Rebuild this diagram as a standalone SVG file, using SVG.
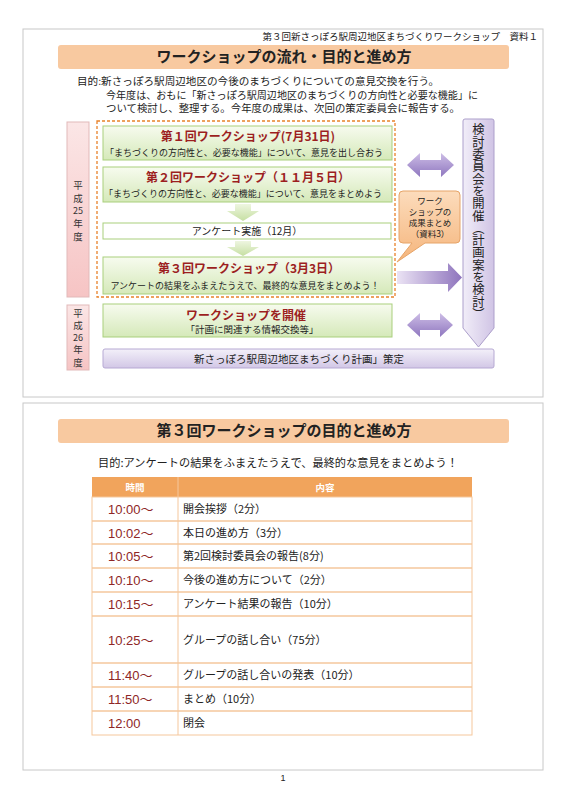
<svg xmlns="http://www.w3.org/2000/svg" width="566" height="800" viewBox="0 0 566 800">
<defs>
<style>
.jp{font-family:"Noto Sans CJK JP","Noto Sans",sans-serif;}
.panel{fill:#fff;stroke:#c8c8c8;stroke-width:1;}
.bar{fill:#f8c9a0;}
.ttl{font-size:15px;font-weight:bold;fill:#222;text-anchor:middle;}
.body{font-size:9.8px;fill:#222;}
.gbox{fill:url(#gGreen);stroke:#a9cf7d;stroke-width:1;}
.wst{font-size:12px;font-weight:bold;fill:#9c1f1f;text-anchor:middle;}
.wss{font-size:9px;fill:#222;text-anchor:middle;}
.year{fill:url(#gPink);stroke:#e2b9b9;stroke-width:1;}
.yt{font-size:9.5px;fill:#333;text-anchor:middle;}
.garrow{fill:url(#gGreenArrow);}
.parrow{fill:url(#gPurpleV);}
.trow{stroke:#f5c79c;stroke-width:1.5;}
.tm{font-family:"Liberation Sans","Noto Sans CJK JP",sans-serif;font-size:13px;fill:#8e2626;}
.tc{font-size:11px;fill:#222;}
</style>
<linearGradient id="gGreen" x1="0" y1="0" x2="0" y2="1">
<stop offset="0" stop-color="#f7fbef"/><stop offset="1" stop-color="#d5e9b9"/>
</linearGradient>
<linearGradient id="gGreenArrow" x1="0" y1="0" x2="0" y2="1">
<stop offset="0" stop-color="#eef6e0"/><stop offset="1" stop-color="#c6dfa2"/>
</linearGradient>
<linearGradient id="gPink" x1="0" y1="0" x2="0" y2="1">
<stop offset="0" stop-color="#fbe6e6"/><stop offset="1" stop-color="#f6c4c4"/>
</linearGradient>
<linearGradient id="gPurpleV" x1="0" y1="0" x2="0" y2="1">
<stop offset="0" stop-color="#cdbde6"/><stop offset="1" stop-color="#8f77bf"/>
</linearGradient>
<linearGradient id="gPurpleH" x1="0" y1="0" x2="1" y2="0">
<stop offset="0" stop-color="#ebe3f4"/><stop offset="1" stop-color="#8e74bd"/>
</linearGradient>
<linearGradient id="gLav" x1="0" y1="0" x2="1" y2="0">
<stop offset="0" stop-color="#f1edf8"/><stop offset="1" stop-color="#d0c4e5"/>
</linearGradient>
<linearGradient id="gLavBar" x1="0" y1="0" x2="0" y2="1">
<stop offset="0" stop-color="#f3f0f9"/><stop offset="1" stop-color="#d2c7e6"/>
</linearGradient>
<linearGradient id="gOrange" x1="0" y1="0" x2="0" y2="1">
<stop offset="0" stop-color="#fcdcbc"/><stop offset="1" stop-color="#f5b57c"/>
</linearGradient>
</defs>

<!-- page panels -->
<rect class="panel" x="23" y="29" width="520" height="368"/>
<rect class="panel" x="23" y="403" width="520" height="367"/>

<g id="header" class="jp">
<text x="538" y="40" font-size="9.5" fill="#222" text-anchor="end">第３回新さっぽろ駅周辺地区まちづくりワークショップ　資料１</text>
</g>

<g id="title1" class="jp">
<rect class="bar" x="58" y="45" width="451" height="24" rx="3"/>
<text class="ttl" x="284" y="62">ワークショップの流れ・目的と進め方</text>
</g>

<g id="purpose1" class="jp body">
<text x="77" y="85" textLength="362" lengthAdjust="spacingAndGlyphs">目的:新さっぽろ駅周辺地区の今後のまちづくりについての意見交換を行う。</text>
<text x="106" y="98.5" textLength="372" lengthAdjust="spacingAndGlyphs">今年度は、おもに「新さっぽろ駅周辺地区のまちづくりの方向性と必要な機能」に</text>
<text x="106" y="112" textLength="354" lengthAdjust="spacingAndGlyphs">ついて検討し、整理する。今年度の成果は、次回の策定委員会に報告する。</text>
</g>

<!-- year labels -->
<g id="year25" class="jp">
<rect class="year" x="67" y="122" width="22" height="175"/>
<text class="yt"><tspan x="78" y="189">平</tspan><tspan x="78" y="202">成</tspan><tspan x="78" y="214" font-size="9">25</tspan><tspan x="78" y="227">年</tspan><tspan x="78" y="240">度</tspan></text>
</g>
<g id="year26" class="jp">
<rect class="year" x="67" y="305" width="22" height="65"/>
<text class="yt"><tspan x="78" y="316.5">平</tspan><tspan x="78" y="329">成</tspan><tspan x="78" y="340.5" font-size="9">26</tspan><tspan x="78" y="353">年</tspan><tspan x="78" y="365.5">度</tspan></text>
</g>

<!-- dashed group -->
<rect x="97" y="121" width="298" height="176" fill="none" stroke="#e8822a" stroke-width="1.3" stroke-dasharray="3,2"/>

<g id="ws1" class="jp">
<rect class="gbox" x="103" y="126" width="289" height="34"/>
<text class="wst" x="248" y="141">第１回ワークショップ(7月31日)</text>
<text class="wss" x="244" y="155.5">「まちづくりの方向性と、必要な機能」について、意見を出し合おう</text>
</g>

<g id="ws2" class="jp">
<rect class="gbox" x="103" y="167" width="289" height="35"/>
<text class="wst" x="248" y="182">第２回ワークショップ（１１月５日）</text>
<text class="wss" x="243" y="196.5">「まちづくりの方向性と、必要な機能」について、意見をまとめよう</text>
</g>

<g id="survey" class="jp">
<rect x="103" y="223" width="288" height="16" fill="#fff" stroke="#a9cf7d" stroke-width="1"/>
<text x="247" y="234.5" font-size="10" fill="#222" text-anchor="middle">アンケート実施（12月）</text>
</g>

<g id="ws3" class="jp">
<rect class="gbox" x="103" y="257" width="289" height="37"/>
<text class="wst" x="249" y="273">第３回ワークショップ（3月3日）</text>
<text class="wss" x="245" y="288.5">アンケートの結果をふまえたうえで、最終的な意見をまとめよう！</text>
</g>

<g id="ws2014" class="jp">
<rect class="gbox" x="103" y="304" width="289" height="33"/>
<text class="wst" x="246" y="319.5">ワークショップを開催</text>
<text x="252" y="333" font-size="9.5" fill="#222" text-anchor="middle">「計画に関連する情報交換等」</text>
</g>

<g id="plan" class="jp">
<rect x="103" y="349" width="391" height="19" rx="2" fill="url(#gLavBar)" stroke="#b6a9d3" stroke-width="1"/>
<text x="299" y="362.5" font-size="10.5" fill="#222" text-anchor="middle">新さっぽろ駅周辺地区まちづくり計画」策定</text>
</g>

<g id="committee" class="jp">
<path d="M463,121 Q463,119 465,119 H492 Q494,119 494,121 V328 L478.5,347 L463,328 Z" fill="url(#gLav)" stroke="#ac9fcb" stroke-width="1"/>
<text x="478.5" y="222" font-size="12.3" fill="#222" text-anchor="middle" style="writing-mode:vertical-rl">検討委員会を開催（計画案を検討）</text>
</g>

<g id="callout" class="jp">
<path d="M403,191 H456 Q460,191 460,195 V239 Q460,243 456,243 H425 L397,262 L412,243 H403 Q399,243 399,239 V195 Q399,191 403,191 Z" fill="url(#gOrange)" stroke="#e6a468" stroke-width="1"/>
<text font-size="8.5" fill="#222" text-anchor="middle"><tspan x="430" y="204">ワーク</tspan><tspan x="430" y="215">ショップの</tspan><tspan x="430" y="226">成果まとめ</tspan><tspan x="430" y="237">（資料3）</tspan></text>
</g>

<g id="connectors">
<path class="garrow" d="M235,204 H251 V211 H259 L243,221 L227,211 H235 Z"/>
<path class="garrow" d="M235,241 H251 V247 H259 L243,256 L227,247 H235 Z"/>
<path class="parrow" d="M407,165 L420,153 V160 H441 V153 L454,165 L441,177 V170 H420 V177 Z"/>
<path class="parrow" d="M407,325 L420,313 V320 H440 V313 L453,325 L440,337 V330 H420 V337 Z"/>
<path d="M397,271 H448 V263 L462,277.5 L448,292 V284 H397 Z" fill="url(#gPurpleH)"/>
</g>

<!-- second panel -->
<g id="title2" class="jp">
<rect class="bar" x="58" y="419" width="451" height="24" rx="3"/>
<text class="ttl" x="284" y="436">第３回ワークショップの目的と進め方</text>
</g>

<g id="purpose2" class="jp">
<text x="98" y="467" font-size="11.2" fill="#222">目的:アンケートの結果をふまえたうえで、最終的な意見をまとめよう！</text>
</g>

<g id="schedule" class="jp">
<rect x="92" y="477" width="380" height="20" fill="#f1a45c"/>
<text x="135" y="490.5" font-size="9.5" font-weight="bold" fill="#fff" text-anchor="middle">時間</text>
<text x="325" y="490.5" font-size="9.5" font-weight="bold" fill="#fff" text-anchor="middle">内容</text>
<rect x="92" y="497" width="380" height="238" fill="#fff" stroke="#f5c79c" stroke-width="1"/>
<line class="trow" x1="92" y1="521" x2="472" y2="521"/>
<line class="trow" x1="92" y1="544" x2="472" y2="544"/>
<line class="trow" x1="92" y1="568" x2="472" y2="568"/>
<line class="trow" x1="92" y1="592" x2="472" y2="592"/>
<line class="trow" x1="92" y1="616" x2="472" y2="616"/>
<line class="trow" x1="92" y1="663" x2="472" y2="663"/>
<line class="trow" x1="92" y1="687" x2="472" y2="687"/>
<line class="trow" x1="92" y1="711" x2="472" y2="711"/>
<line x1="178" y1="477" x2="178" y2="735" stroke="#f5c79c" stroke-width="1"/>
<text class="tm" x="108" y="514">10:00～</text>
<text class="tm" x="108" y="537.5">10:02～</text>
<text class="tm" x="108" y="561">10:05～</text>
<text class="tm" x="108" y="585">10:10～</text>
<text class="tm" x="108" y="609">10:15～</text>
<text class="tm" x="108" y="645">10:25～</text>
<text class="tm" x="108" y="680">11:40～</text>
<text class="tm" x="108" y="704">11:50～</text>
<text class="tm" x="108" y="728">12:00</text>
<text class="tc" x="183" y="513">開会挨拶（2分）</text>
<text class="tc" x="183" y="536.5">本日の進め方（3分）</text>
<text class="tc" x="183" y="560">第2回検討委員会の報告(8分)</text>
<text class="tc" x="183" y="584">今後の進め方について（2分）</text>
<text class="tc" x="183" y="608">アンケート結果の報告（10分）</text>
<text class="tc" x="183" y="644">グループの話し合い（75分）</text>
<text class="tc" x="183" y="679">グループの話し合いの発表（10分）</text>
<text class="tc" x="183" y="703">まとめ（10分）</text>
<text class="tc" x="183" y="727">閉会</text>
</g>

<g id="pagenum">
<text x="283" y="781" font-family="Liberation Sans, sans-serif" font-size="9" fill="#222" text-anchor="middle">1</text>
</g>
</svg>
